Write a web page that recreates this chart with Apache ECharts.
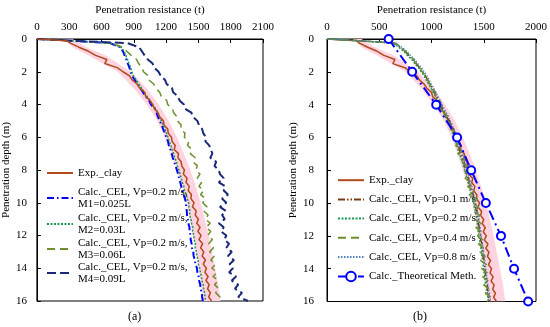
<!DOCTYPE html>
<html><head><meta charset="utf-8">
<script src="https://cdn.jsdelivr.net/npm/echarts@6/dist/echarts.min.js"></script>
<style>html,body{margin:0;padding:0;background:#fff}#c{width:550px;height:327px}</style>
</head><body><div id="c"></div>
<script>
// depth sampling (m)
const depth = [0,0.1,0.25,0.5,0.75,1,1.25,1.5,1.75,2,2.25,2.5,2.75,3,3.25,3.5,3.75,4,4.25,4.5,
  4.75,5,5.25,5.5,5.75,6,6.25,6.5,6.75,7,7.25,7.5,7.75,8,8.25,8.5,8.75,9,9.25,9.5,9.75,10,
  10.25,10.5,10.75,11,11.25,11.5,11.75,12,12.25,12.5,12.75,13,13.25,13.5,13.75,14,14.25,14.5,14.75,15,15.25,15.5,15.75,16];

// experimental clay (t)
const expClay = [0,280,310,390,480,545,650,630,745,800,860,885,930,955,1000,1010,1050,1075,1090,1125,
  1140,1175,1180,1215,1220,1250,1255,1285,1275,1315,1310,1340,1345,1370,1360,1395,1385,1415,1405,1435,1430,1460,
  1445,1480,1470,1500,1485,1515,1495,1525,1505,1540,1520,1550,1535,1565,1545,1575,1560,1590,1570,1600,1585,1612,1595,1622];

// experimental scatter band
const bandDepth = [0,0.5,1,2,3,4,5,6,7,8,9,10,11,12,13,14,15,16];
const bandLo = [250,330,480,750,900,1020,1120,1190,1250,1300,1350,1390,1420,1450,1480,1505,1525,1545];
const bandHi = [330,460,640,870,1020,1130,1225,1300,1365,1425,1475,1520,1560,1595,1625,1655,1685,1705];

// panel (a)
const calcM1 = [0,300,680,770,800,815,830,845,860,870,885,910,935,960,985,1010,1040,1060,1095,1110,
  1125,1140,1160,1172,1190,1200,1218,1225,1240,1252,1262,1275,1288,1300,1312,1320,1332,1340,1352,1362,1375,1385,
  1386,1392,1394,1402,1406,1417,1418,1427,1428,1437,1440,1452,1456,1467,1473,1487,1490,1502,1506,1517,1520,1532,1534,1542];
const calcM2 = [0,300,685,780,810,825,842,855,872,882,898,922,948,972,998,1022,1050,1072,1105,1122,
  1138,1155,1172,1190,1203,1218,1228,1245,1255,1270,1280,1296,1305,1320,1330,1342,1350,1365,1372,1388,1395,1410,
  1412,1420,1418,1432,1436,1448,1446,1458,1460,1472,1470,1482,1486,1498,1500,1512,1518,1528,1532,1545,1548,1558,1560,1568];
const calcM3 = [0,300,690,800,835,875,925,945,975,990,1035,1040,1085,1105,1140,1155,1205,1215,1260,1270,
  1300,1305,1340,1335,1375,1370,1410,1400,1440,1425,1470,1450,1490,1475,1515,1490,1530,1505,1550,1520,1565,1540,
  1580,1550,1590,1565,1610,1570,1615,1585,1630,1595,1640,1605,1650,1615,1660,1625,1675,1635,1685,1650,1690,1660,1700,1680];
const calcM4 = [0,300,840,950,975,1000,1030,1075,1090,1130,1150,1190,1205,1255,1265,1310,1325,1365,1375,1435,
  1450,1490,1505,1535,1545,1570,1565,1600,1615,1630,1610,1665,1650,1690,1700,1735,1690,1750,1735,1775,1720,1760,
  1700,1755,1720,1745,1690,1735,1710,1760,1740,1785,1760,1810,1775,1830,1790,1820,1785,1850,1810,1870,1840,1905,1870,1960];

// panel (b)
const calcV01 = [0,300,645,700,745,785,820,855,885,915,940,965,980,1010,1025,1050,1065,1090,1105,1130,
  1145,1170,1180,1205,1212,1235,1240,1262,1265,1285,1290,1312,1315,1335,1338,1355,1360,1380,1382,1400,1402,1420,
  1420,1436,1434,1450,1447,1460,1457,1470,1470,1485,1482,1495,1492,1505,1502,1515,1512,1525,1522,1535,1534,1550,1547,1560];
const calcV02 = [0,300,635,685,735,770,812,840,876,900,930,950,972,995,1016,1036,1056,1076,1096,1116,
  1132,1156,1170,1192,1202,1222,1230,1246,1255,1270,1280,1296,1305,1320,1328,1340,1350,1364,1372,1385,1392,1405,
  1410,1420,1425,1434,1438,1446,1448,1455,1460,1470,1472,1480,1482,1490,1493,1500,1503,1510,1513,1520,1525,1535,1538,1545];
const calcV04 = [0,300,650,705,750,790,830,850,895,910,950,960,990,1000,1040,1040,1080,1080,1120,1115,
  1170,1140,1210,1180,1245,1205,1275,1230,1300,1250,1330,1275,1350,1300,1375,1320,1395,1345,1415,1360,1440,1385,
  1450,1400,1465,1415,1475,1425,1480,1440,1495,1450,1500,1465,1515,1470,1525,1480,1535,1490,1545,1500,1555,1515,1570,1530];
const calcV08 = [0,300,660,715,765,800,840,870,905,930,958,978,998,1022,1042,1062,1082,1102,1122,1142,
  1162,1180,1198,1215,1230,1245,1258,1270,1282,1295,1306,1318,1330,1342,1352,1362,1374,1386,1396,1406,1416,1426,
  1434,1441,1448,1455,1460,1465,1470,1475,1483,1490,1495,1500,1505,1510,1515,1520,1525,1530,1535,1540,1547,1555,1560,1565];
const theoDepth = [0,2,4,6,8,10,12,14,16];
const theoVal = [590,815,1045,1245,1380,1520,1665,1790,1925];

const ticksA = {min:0, max:2100, interval:300};
const ticksB = {min:0, max:2000, interval:500};

const FONT = 'Liberation Serif';
const txt = {fontFamily: FONT, fontSize: 11, color: '#000'};

function pairs(vals, dep) { return vals.map((v, i) => [v, dep[i]]); }

function lineSeries(name, idx, vals, dep, color, width, type, z) {
  return {
    name: name, type: 'line', xAxisIndex: idx, yAxisIndex: idx,
    data: pairs(vals, dep), symbol: 'none', showSymbol: false,
    lineStyle: {color: color, width: width, type: type},
    itemStyle: {color: color}, z: z || 2, clip: true, animation: false
  };
}

function bandSeries(idx) {
  return {
    type: 'custom', xAxisIndex: idx, yAxisIndex: idx, silent: true, z: 1, clip: true,
    data: bandDepth.map((d, i) => [bandLo[i], d, bandHi[i]]),
    encode: {x: [0, 2], y: 1},
    renderItem: function (params, api) {
      if (params.dataIndex !== 0) return null;
      const pts = [];
      for (let i = 0; i < bandDepth.length; i++) pts.push(api.coord([bandLo[i], bandDepth[i]]));
      for (let i = bandDepth.length - 1; i >= 0; i--) pts.push(api.coord([bandHi[i], bandDepth[i]]));
      return {type: 'polygon', shape: {points: pts}, style: {fill: '#ffd3df'}};
    }
  };
}

function xAx(idx, t) {
  return {
    gridIndex: idx, type: 'value', position: 'top', min: t.min, max: t.max, interval: t.interval,
    name: 'Penetration resistance (t)', nameLocation: 'middle', nameGap: 23, nameTextStyle: txt,
    axisLine: {show: true, onZero: false, lineStyle: {color: '#000', width: 1}},
    axisTick: {show: true, inside: true, length: 4, lineStyle: {color: '#000'}},
    axisLabel: Object.assign({margin: 6, formatter: v => String(v)}, txt), splitLine: {show: false}
  };
}
function yAx(idx, gap, margin) {
  return {
    gridIndex: idx, type: 'value', inverse: true, min: 0, max: 16, interval: 2,
    name: 'Penetration depth (m)', nameLocation: 'middle', nameGap: gap, nameTextStyle: txt,
    axisLine: {show: true, onZero: false, lineStyle: {color: '#000', width: 1}},
    axisTick: {show: true, inside: true, length: 4, lineStyle: {color: '#000'}},
    axisLabel: Object.assign({margin: margin, formatter: v => String(v)}, txt), splitLine: {show: false}
  };
}

const namesA = ['Exp._clay', 'Calc._CEL, Vp=0.2 m/s, M1=0.025L', 'Calc._CEL, Vp=0.2 m/s, M2=0.03L',
  'Calc._CEL, Vp=0.2 m/s, M3=0.06L', 'Calc._CEL, Vp=0.2 m/s, M4=0.09L'];
const labelsA = ['Exp._clay', 'Calc._CEL, Vp=0.2 m/s,\nM1=0.025L', 'Calc._CEL, Vp=0.2 m/s,\nM2=0.03L',
  'Calc._CEL, Vp=0.2 m/s,\nM3=0.06L', 'Calc._CEL, Vp=0.2 m/s,\nM4=0.09L'];
const namesB = ['Exp._clay (b)', 'Calc._CEL, Vp=0.1 m/s', 'Calc._CEL, Vp=0.2 m/s', 'Calc._CEL, Vp=0.4 m/s',
  'Calc._CEL, Vp=0.8 m/s', 'Calc._Theoretical Meth.'];
const labelsB = ['Exp._clay', 'Calc._CEL, Vp=0.1 m/s', 'Calc._CEL, Vp=0.2 m/s', 'Calc._CEL, Vp=0.4 m/s',
  'Calc._CEL, Vp=0.8 m/s', 'Calc._Theoretical Meth.'];

const EXPC = '#b04a1c';
const series = [
  bandSeries(0),
  lineSeries(namesA[1], 0, calcM1, depth, '#0000ff', 2, [7, 3, 1.5, 3], 3),
  lineSeries(namesA[2], 0, calcM2, depth, '#1a9a50', 1.5, [2, 1.5], 3),
  lineSeries(namesA[3], 0, calcM3, depth, '#6f8f2e', 1.5, [8, 5], 3),
  lineSeries(namesA[4], 0, calcM4, depth, '#1b2a78', 2, [9, 4], 3),
  lineSeries(namesA[0], 0, expClay, depth, EXPC, 1.5, 'solid', 4),
  bandSeries(1),
  lineSeries(namesB[0], 1, expClay, depth, EXPC, 1.5, 'solid', 3),
  lineSeries(namesB[1], 1, calcV01, depth, '#7a3b12', 1.5, [7, 2, 1.5, 2, 1.5, 2], 4),
  lineSeries(namesB[2], 1, calcV02, depth, '#1a9a50', 1.5, [2, 1.5], 4),
  lineSeries(namesB[3], 1, calcV04, depth, '#6f8f2e', 1.5, [8, 5], 4),
  lineSeries(namesB[4], 1, calcV08, depth, '#4f7fc0', 1.2, [1.5, 1.5], 4),
  {
    name: namesB[5], type: 'line', xAxisIndex: 1, yAxisIndex: 1, z: 5,
    data: pairs(theoVal, theoDepth), symbol: 'circle', symbolSize: 8, showSymbol: true,
    lineStyle: {color: '#0000ff', width: 2, type: [10, 4, 2, 4]},
    itemStyle: {color: '#ffffff', borderColor: '#0000ff', borderWidth: 2}, clip: false, animation: false
  }
];

const hideSym = {opacity: 0};
const legA = [];
const legATops = [174, 198, 224, 249, 273];
namesA.forEach((n, i) => {
  const two = labelsA[i].indexOf('\n') >= 0;
  legA.push({
    data: [{name: n, itemStyle: hideSym}], left: 46, top: two ? legATops[i] - 18 : legATops[i] - 7, orient: 'vertical',
    padding: 0, itemWidth: 26, itemHeight: 14, itemGap: 5, selectedMode: false,
    formatter: () => labelsA[i],
    textStyle: Object.assign({lineHeight: 12, padding: two ? [12, 0, 0, 0] : 0}, txt)
  });
});
const legB = {
  data: namesB.map((n, i) => (i === 5 ? {name: n} : {name: n, itemStyle: hideSym})),
  left: 337, top: 174.7, orient: 'vertical', padding: 0, itemWidth: 26, itemHeight: 12,
  itemGap: 8.2, selectedMode: false,
  formatter: n => labelsB[namesB.indexOf(n)], textStyle: txt
};

const chart = echarts.init(document.getElementById('c'), null, {renderer: 'canvas'});
chart.setOption({
  animation: false,
  backgroundColor: '#fff',
  textStyle: {fontFamily: FONT},
  grid: [
    {left: 36, top: 36, width: 227, height: 265, show: true, borderColor: '#000', borderWidth: 1, backgroundColor: 'transparent'},
    {left: 327, top: 36, width: 211, height: 265.5, show: true, borderColor: '#000', borderWidth: 1, backgroundColor: 'transparent'}
  ],
  xAxis: [xAx(0, ticksA), xAx(1, ticksB)],
  yAxis: [yAx(0, 16, 10), yAx(1, 20, 13)],
  legend: legA.concat([legB]),
  series: series,
  graphic: [
    {type: 'text', left: 128, top: 311, style: {text: '(a)', font: '12px "Liberation Serif"', fill: '#000'}},
    {type: 'text', left: 413, top: 311, style: {text: '(b)', font: '12px "Liberation Serif"', fill: '#000'}}
  ]
});
</script>
</body></html>
